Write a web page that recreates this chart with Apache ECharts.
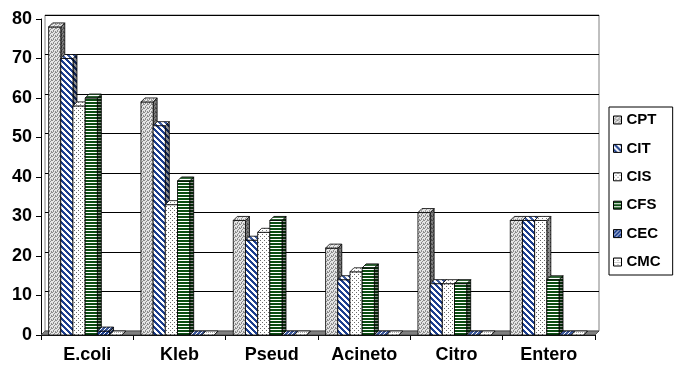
<!DOCTYPE html>
<html>
<head>
<meta charset="utf-8">
<script src="https://cdn.jsdelivr.net/npm/echarts@6/dist/echarts.min.js"></script>
<style>
  html, body { margin: 0; padding: 0; background: #fff; }
  #chart { width: 676px; height: 367px; }
</style>
</head>
<body>
<div id="chart"></div>
<script>
// Organism groups along the x axis
const categories = ['E.coli', 'Kleb', 'Pseud', 'Acineto', 'Citro', 'Entero'];
// Antibiotic series names
const seriesNames = ['CPT', 'CIT', 'CIS', 'CFS', 'CEC', 'CMC'];
// Values per antibiotic, one per organism
const cpt = [78, 59, 29, 22, 31, 29];
const cit = [70, 53, 24, 14, 13, 29];
const cis = [58, 33, 26, 16, 13, 29];
const cfs = [60, 39, 29, 17, 13, 14];
const cec = [1, 0, 0, 0, 0, 0];
const cmc = [0, 0, 0, 0, 0, 0];
// Value axis range
const yMin = 0, yMax = 80, yStep = 10;

const seriesValues = [cpt, cit, cis, cfs, cec, cmc];

// ---- fill patterns -------------------------------------------------------
function makeTile(w, h, paint) {
  const c = document.createElement('canvas');
  c.width = w; c.height = h;
  const g = c.getContext('2d');
  paint(g, w, h);
  return c;
}
function px(g, x, y, col) { g.fillStyle = col; g.fillRect(x, y, 1, 1); }

const tiles = [
  // CPT: grey stipple
  makeTile(4, 4, (g) => {
    g.fillStyle = '#e4e4e4'; g.fillRect(0, 0, 4, 4);
    [[0,0],[2,1],[1,2],[3,3],[3,0],[1,3]].forEach(p => px(g, p[0], p[1], '#8c8c8c'));
  }),
  // CIT: blue back-diagonal stripes
  makeTile(6, 6, (g) => {
    g.fillStyle = '#ffffff'; g.fillRect(0, 0, 6, 6);
    for (let y = 0; y < 6; y++) for (let x = 0; x < 6; x++) {
      const d = ((x - y) % 6 + 6) % 6;
      if (d <= 2) px(g, x, y, '#1d3f8f');
    }
  }),
  // CIS: sparse dark dots on white
  makeTile(4, 4, (g) => {
    g.fillStyle = '#ffffff'; g.fillRect(0, 0, 4, 4);
    px(g, 0, 0, '#6a6a6a'); px(g, 2, 2, '#6a6a6a');
  }),
  // CFS: dark green horizontal stripes
  makeTile(3, 3, (g) => {
    g.fillStyle = '#ffffff'; g.fillRect(0, 0, 3, 3);
    g.fillStyle = '#0b4d12'; g.fillRect(0, 0, 3, 2);
  }),
  // CEC: navy weave
  makeTile(4, 4, (g) => {
    g.fillStyle = '#1d3f8f'; g.fillRect(0, 0, 4, 4);
    [[1,0],[0,1],[3,2],[2,3]].forEach(p => px(g, p[0], p[1], '#ffffff'));
  }),
  // CMC: faint dotted grid
  makeTile(4, 4, (g) => {
    g.fillStyle = '#ffffff'; g.fillRect(0, 0, 4, 4);
    px(g, 0, 0, '#9a9a9a'); px(g, 0, 2, '#9a9a9a'); px(g, 2, 0, '#9a9a9a');
  })
];
const patterns = tiles.map(t => ({ image: t, repeat: 'repeat' }));

// ---- layout --------------------------------------------------------------
const G = { left: 41, right: 81, top: 19, bottom: 32 };
const DEPTH = 4;
const FONT = 'Liberation Sans, Arial, sans-serif';

function barRenderer(idx) {
  return function (params, api) {
    const cat = api.value(0);
    const v = api.value(1);
    const base = api.coord([cat, 0]);
    const top = api.coord([cat, v]);
    const band = api.size([1, 0])[0];
    const bw = band * 0.132;
    const x0 = base[0] - (6 * bw + DEPTH) / 2 + idx * bw;
    const x1 = x0 + bw;
    const yt = top[1], yb = base[1];
    const fill = patterns[idx];
    const edge = { stroke: '#000', lineWidth: 0.8 };
    const children = [];
    // right side face
    const side = [[x1, yt], [x1 + DEPTH, yt - DEPTH], [x1 + DEPTH, yb - DEPTH], [x1, yb]];
    children.push({ type: 'polygon', shape: { points: side }, style: { fill: fill } });
    children.push({ type: 'polygon', shape: { points: side }, style: Object.assign({ fill: 'rgba(0,0,0,0.45)' }, edge) });
    // front face
    if (yb - yt > 0.5) {
      children.push({ type: 'rect', shape: { x: x0, y: yt, width: bw, height: yb - yt },
        style: Object.assign({ fill: fill }, edge) });
    }
    // top face
    const topFace = [[x0, yt], [x1, yt], [x1 + DEPTH, yt - DEPTH], [x0 + DEPTH, yt - DEPTH]];
    children.push({ type: 'polygon', shape: { points: topFace }, style: { fill: fill } });
    children.push({ type: 'polygon', shape: { points: topFace }, style: Object.assign({ fill: 'rgba(255,255,255,0.15)' }, edge) });
    return { type: 'group', children: children };
  };
}

const chart = echarts.init(document.getElementById('chart'), null, { renderer: 'canvas' });

const series = seriesNames.map((name, i) => ({
  name: name,
  type: 'custom',
  xAxisIndex: 0,
  yAxisIndex: 0,
  renderItem: barRenderer(i),
  itemStyle: { color: patterns[i] },
  encode: { x: 0, y: 1 },
  data: seriesValues[i].map((v, j) => [j, v]),
  z: 3
}));

chart.setOption({
  animation: false,
  backgroundColor: '#ffffff',
  grid: [
    // front (axes)
    { left: G.left, right: G.right, top: G.top, bottom: G.bottom, containLabel: false },
    // back wall
    { left: G.left + DEPTH, right: G.right - DEPTH, top: G.top - DEPTH, bottom: G.bottom + DEPTH,
      show: true, borderColor: '#808080', borderWidth: 1, backgroundColor: 'transparent' }
  ],
  xAxis: [
    {
      type: 'category', gridIndex: 0, data: categories,
      axisLine: { show: true, lineStyle: { color: '#000', width: 1 } },
      axisTick: { show: true, alignWithLabel: false, length: 5, lineStyle: { color: '#000' } },
      axisLabel: { color: '#000', fontFamily: FONT, fontWeight: 'bold', fontSize: 18, margin: 11 },
      splitLine: { show: false }
    },
    {
      type: 'category', gridIndex: 1, data: categories,
      axisLine: { show: false }, axisTick: { show: false }, axisLabel: { show: false },
      splitLine: { show: false }
    }
  ],
  yAxis: [
    {
      type: 'value', gridIndex: 0, min: yMin, max: yMax, interval: yStep,
      axisLine: { show: true, lineStyle: { color: '#000', width: 1 } },
      axisTick: { show: true, length: 5, lineStyle: { color: '#000' } },
      axisLabel: { color: '#000', fontFamily: FONT, fontWeight: 'bold', fontSize: 18, margin: 9 },
      splitLine: { show: false }
    },
    {
      type: 'value', gridIndex: 1, min: yMin, max: yMax, interval: yStep,
      axisLine: { show: false }, axisTick: { show: false }, axisLabel: { show: false },
      splitLine: { show: true, lineStyle: { color: '#000', width: 1 } }
    }
  ],
  legend: {
    orient: 'vertical',
    left: 609, top: 107,
    padding: [5, 12, 5, 4],
    borderColor: '#000', borderWidth: 1,
    itemWidth: 8, itemHeight: 8, itemGap: 12.4,
    icon: 'rect',
    itemStyle: { borderColor: '#000', borderWidth: 1 },
    textStyle: { color: '#000', fontFamily: FONT, fontWeight: 'bold', fontSize: 15, lineHeight: 16 },
    data: seriesNames
  },
  graphic: [
    // floor strip between back wall and front edge
    {
      type: 'polygon', z: 1, silent: true,
      shape: { points: [[G.left, 367 - G.bottom], [676 - G.right, 367 - G.bottom],
                        [676 - G.right + DEPTH, 367 - G.bottom - DEPTH], [G.left + DEPTH, 367 - G.bottom - DEPTH]] },
      style: { fill: '#808080', stroke: '#404040', lineWidth: 0.8 }
    }
  ],
  series: series
});
</script>
</body>
</html>
